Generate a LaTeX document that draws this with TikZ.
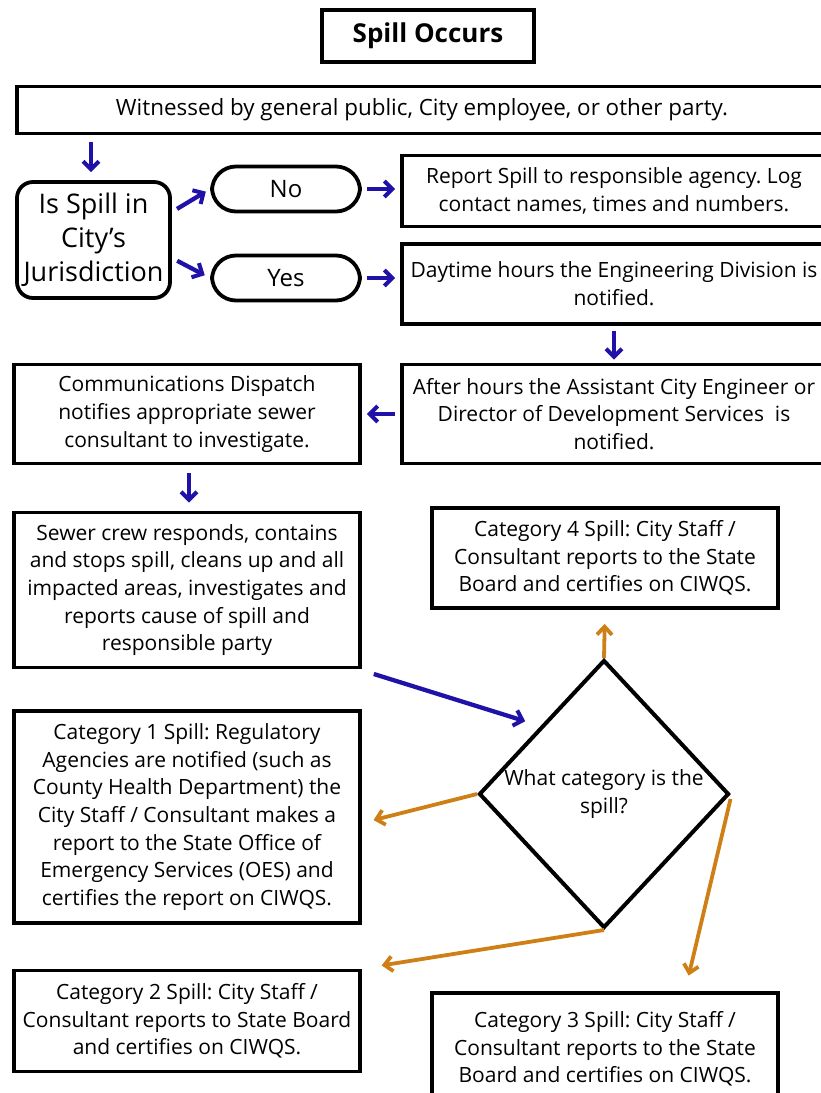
\documentclass[tikz,border=0pt]{standalone}
\usepackage{fontspec}
\setmainfont{Open Sans}
\usetikzlibrary{shapes.geometric,arrows.meta}
\definecolor{flowblue}{RGB}{32,18,168}
\definecolor{floworange}{RGB}{206,128,22}

\tikzset{
  box/.style={draw, line width=3.8pt, align=center, inner sep=0pt,
    font=\fontsize{21}{27.7}\selectfont},
  pill/.style={box, rounded corners=24pt, font=\fontsize{24}{33}\selectfont},
  barrow/.style={draw=flowblue, line width=4.3pt,
    -{Straight Barb[length=8pt,width=16pt,line width=4pt]}},
  oarrow/.style={draw=floworange, line width=3.8pt,
    -{Straight Barb[length=8pt,width=15pt,line width=3.8pt]}}
}

\begin{document}
\frenchspacing
\begin{tikzpicture}[x=1pt,y=-1pt]
  \useasboundingbox (0,0) rectangle (820,1093);

  % top of the chart
  \node[box, minimum width=212pt, minimum height=52pt,
    font=\fontsize{26}{30}\selectfont\bfseries] (title) at (428,36) {Spill Occurs};
  \node[box, minimum width=810pt, minimum height=47pt,
    font=\fontsize{22.4}{28}\selectfont] (witness) at (422,110)
    {Witnessed by general public, City employee, or other party.};

  % jurisdiction question
  \node[pill, rounded corners=16pt, minimum width=153pt, minimum height=116pt,
    font=\fontsize{27}{34}\selectfont] (isspill) at (93.5,240)
    {Is Spill in\\City's\\Jurisdiction};
  \node[pill, minimum width=148pt, minimum height=45pt] (no) at (286,189) {No};
  \node[pill, minimum width=148pt, minimum height=45pt] (yes) at (286,278) {Yes};

  % right column
  \node[box, minimum width=424pt, minimum height=71pt] (report) at (614,191)
    {Report Spill to responsible agency. Log\\contact names, times and numbers.};
  \node[box, minimum width=424pt, minimum height=80pt] (daytime) at (614,284)
    {Daytime hours the Engineering Division is\\notified.};
  \node[box, minimum width=424pt, minimum height=99pt] (after) at (614,414)
    {After hours the Assistant City Engineer or\\Director of Development Services\ \ is\\notified.};

  % left column
  \node[box, minimum width=346pt, minimum height=99pt] (comm) at (187,414)
    {Communications Dispatch\\notifies appropriate sewer\\consultant to investigate.};
  \node[box, minimum width=346pt, minimum height=155pt] (sewer) at (187,590)
    {Sewer crew responds, contains\\and stops spill, cleans up and all\\impacted areas, investigates and\\reports cause of spill and\\responsible party};
  \node[box, minimum width=346pt, minimum height=212pt] (cat1) at (187,817)
    {Category 1 Spill: Regulatory\\Agencies are notified (such as\\County Health Department) the\\City Staff / Consultant makes a\\report to the State Office of\\Emergency Services (OES) and\\certifies the report on CIWQS.};
  \node[box, minimum width=346pt, minimum height=101pt] (cat2) at (187,1021)
    {Category 2 Spill: City Staff /\\Consultant reports to State Board\\and certifies on CIWQS.};

  % category question
  \node[box, minimum width=346pt, minimum height=100pt] (cat4) at (605,558)
    {Category 4 Spill: City Staff /\\Consultant reports to the State\\Board and certifies on CIWQS.};
  \node[diamond, draw, line width=4pt, inner sep=0pt,
    minimum width=250pt, minimum height=268pt] (cat) at (604,794) {};
  \node[align=center, font=\fontsize{21}{27.7}\selectfont] (cattext) at (cat) {What category is the\\spill?};
  \node[box, minimum width=346pt, minimum height=112pt] (cat3) at (605,1049)
    {Category 3 Spill: City Staff /\\Consultant reports to the State\\Board and certifies on CIWQS.};

  % blue arrows
  \draw[barrow, shorten <=7pt, shorten >=8pt] (witness.south -| 91,0) -- (isspill.north -| 91,0);
  \draw[barrow, shorten <=6pt, shorten >=5pt] ([yshift=28pt]isspill.east) -- (no.west);
  \draw[barrow, shorten <=6pt, shorten >=6pt] ([yshift=-18pt]isspill.east) -- (yes.west);
  \draw[barrow, shorten <=5pt, shorten >=5pt] (no.east) -- (no.east -| report.west);
  \draw[barrow, shorten <=5pt, shorten >=5pt] (yes.east) -- (yes.east -| daytime.west);
  \draw[barrow, shorten <=5pt, shorten >=3pt] (daytime.south) -- (after.north);
  \draw[barrow, shorten <=5pt, shorten >=5pt] (after.west) -- (after.west -| comm.east);
  \draw[barrow, shorten <=8pt, shorten >=8pt] (comm.south -| 189,0) -- (sewer.north -| 189,0);
  \draw[barrow, shorten <=2pt, shorten >=16pt] ([xshift=10pt,yshift=-4pt]sewer.south east) -- (cat.north west);

  % orange arrows
  \draw[oarrow, shorten >=14pt] (cat.north) -- (cat4.south);
  \draw[oarrow, shorten >=12pt] (cat.west) -- ([yshift=-6pt]cat1.east);
  \draw[oarrow, shorten >=20pt] (cat.south) -- (cat2.north east);
  \draw[oarrow, shorten <=2pt, shorten >=16pt] ([yshift=-3pt]cat.east) -- ([xshift=80pt]cat3.north);
\end{tikzpicture}
\end{document}
